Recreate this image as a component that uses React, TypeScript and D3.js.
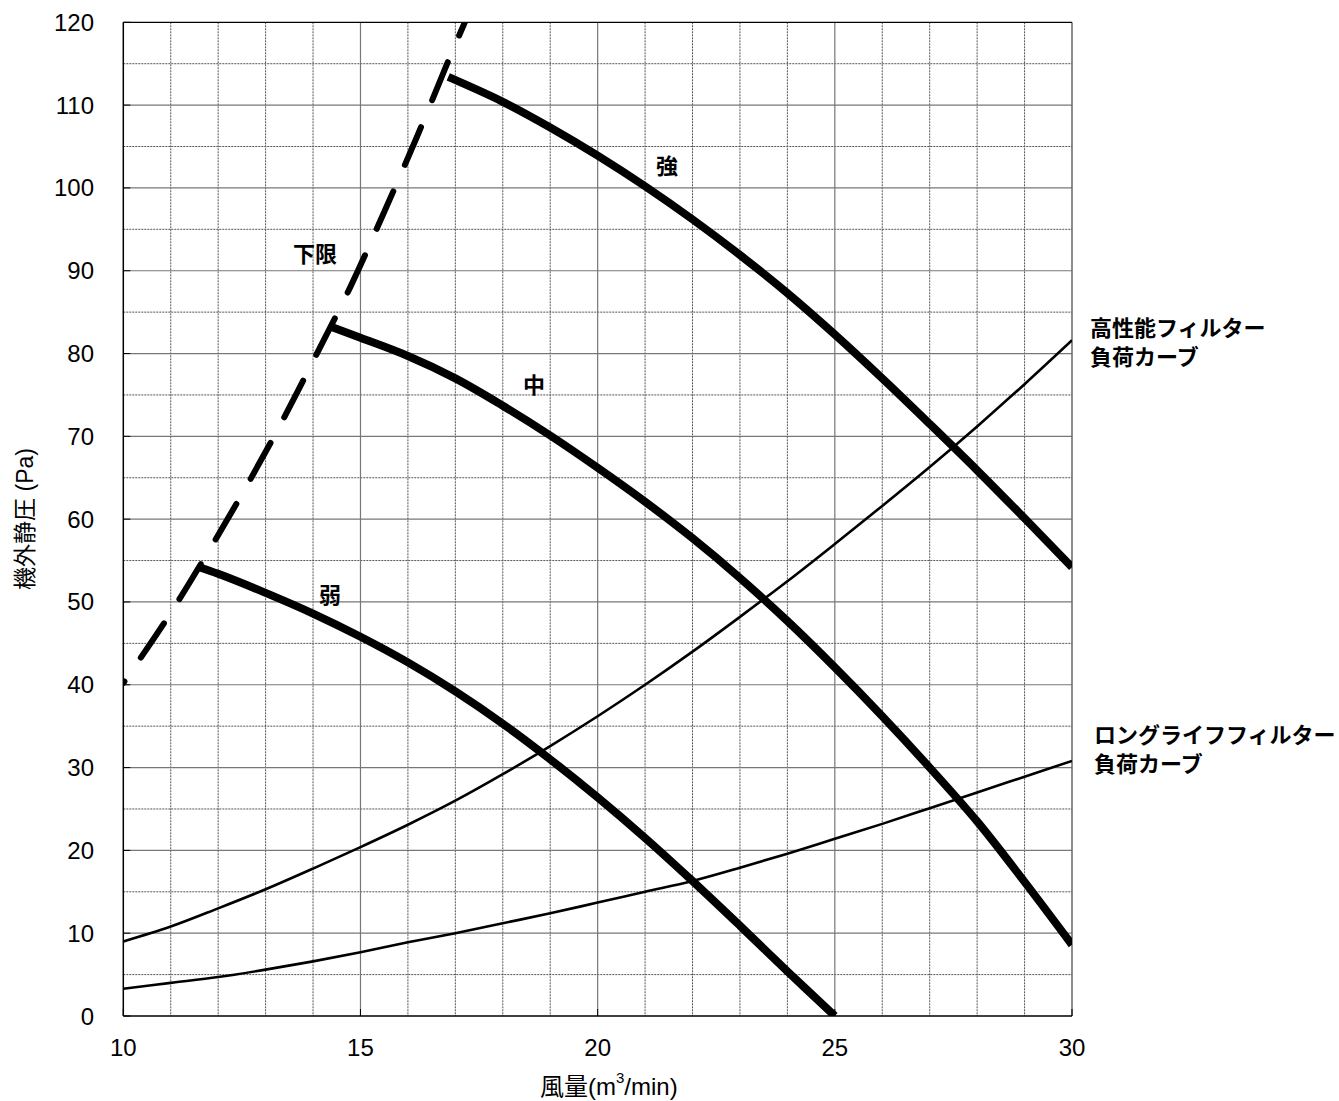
import React from 'react';
import * as d3 from 'd3';

// fan curves (Q in m3/min, P in Pa)
const strongQ = [16.85, 18, 19, 20, 21, 22, 23, 24, 25, 26, 27, 28, 29, 30];
const strongP = [113.4, 110.4, 107.3, 103.9, 100.2, 96.2, 91.9, 87.3, 82.3, 77.0, 71.5, 65.9, 60.1, 54.2];

const mediumQ = [14.35, 15, 16, 17, 18, 19, 20, 21, 22, 23, 24, 25, 26, 27, 28, 29, 30];
const mediumP = [83.3, 81.9, 79.7, 77.0, 73.7, 70.1, 66.2, 62.1, 57.7, 52.9, 47.7, 42.1, 36.2, 30.0, 23.5, 16.2, 8.6];

const weakQ = [11.6, 12, 13, 14, 15, 16, 17, 18, 19, 20, 21, 22, 23, 24, 25];
const weakP = [54.2, 53.4, 51.1, 48.6, 45.8, 42.7, 39.2, 35.3, 31.0, 26.4, 21.5, 16.3, 10.9, 5.4, 0];

// filter load curves
const hpQ = [10, 11, 12, 13, 14, 15, 16, 17, 18, 19, 20, 21, 22, 23, 24, 25, 26, 27, 28, 29, 30];
const hpP = [9.0, 10.8, 13.0, 15.3, 17.8, 20.4, 23.1, 26.0, 29.2, 32.6, 36.2, 40.0, 44.0, 48.2, 52.5, 57.0, 61.6, 66.3, 71.2, 76.3, 81.6];

const llQ = [10, 11, 12, 13, 14, 15, 16, 17, 18, 19, 20, 21, 22, 23, 24, 25, 26, 27, 28, 29, 30];
const llP = [3.3, 4.0, 4.7, 5.6, 6.6, 7.7, 8.9, 10.0, 11.2, 12.4, 13.7, 15.0, 16.3, 17.9, 19.6, 21.4, 23.2, 25.1, 27.0, 28.9, 30.8];

// lower limit (dashed)
const limitQ = [10, 10.9, 11.7, 12.5, 13.3, 14.1, 14.8, 15.5, 16.2, 16.9, 17.2];
const limitP = [40.2, 47.8, 55.2, 63.0, 71.3, 80.2, 88.2, 97.1, 106.3, 116.0, 120.0];

const xTicks = [10, 15, 20, 25, 30];
const yTicks = [0, 10, 20, 30, 40, 50, 60, 70, 80, 90, 100, 110, 120];

const W = 1339, H = 1101;
const left = 123.3, right = 1072, top = 22.3, bottom = 1016;
const latin = "'Liberation Sans', Arial, 'Noto Sans CJK JP', sans-serif";
const jp = "'Noto Sans CJK JP', sans-serif";

export default function App() {
  const x = d3.scaleLinear().domain([10, 30]).range([left, right]);
  const y = d3.scaleLinear().domain([0, 120]).range([bottom, top]);

  const line = d3.line<[number, number]>()
    .x(d => x(d[0]))
    .y(d => y(d[1]))
    .curve(d3.curveCatmullRom.alpha(0.5));
  const path = (qs: number[], ps: number[]) => line(qs.map((q, i) => [q, ps[i]] as [number, number])) || '';

  const minorX = d3.range(11, 30).filter(v => v % 5 !== 0);
  const majorX = [15, 20, 25];
  const minorY = d3.range(5, 120, 10);
  const majorY = d3.range(10, 120, 10);

  return (
    <svg width={W} height={H} style={{ position: 'absolute', left: 0, top: 0, background: '#fff' }}>
      <defs>
        <clipPath id="plot">
          <rect x={left} y={top} width={right - left} height={bottom - top} />
        </clipPath>
      </defs>

      {/* grid */}
      <g>
        {minorX.map(v => (
          <line key={'mx' + v} x1={x(v)} x2={x(v)} y1={top} y2={bottom} stroke="#555" strokeWidth={1} strokeDasharray="2 1" />
        ))}
        {minorY.map(v => (
          <line key={'my' + v} x1={left} x2={right} y1={y(v)} y2={y(v)} stroke="#555" strokeWidth={1} strokeDasharray="2 1" />
        ))}
        {majorX.map(v => (
          <line key={'Mx' + v} x1={x(v)} x2={x(v)} y1={top} y2={bottom} stroke="#777" strokeWidth={1.2} />
        ))}
        {majorY.map(v => (
          <line key={'My' + v} x1={left} x2={right} y1={y(v)} y2={y(v)} stroke="#777" strokeWidth={1.2} />
        ))}
      </g>

      {/* frame */}
      <line x1={right} x2={right} y1={top} y2={bottom} stroke="#666" strokeWidth={1.5} />
      <line x1={left} x2={right} y1={top} y2={top} stroke="#000" strokeWidth={1.2} />
      <line x1={left} x2={left} y1={top} y2={bottom} stroke="#000" strokeWidth={1.5} />
      <line x1={left} x2={right} y1={bottom} y2={bottom} stroke="#000" strokeWidth={1.5} />
      {yTicks.map(v => (
        <line key={'ty' + v} x1={left} x2={left + 7} y1={y(v)} y2={y(v)} stroke="#000" strokeWidth={1} />
      ))}
      {xTicks.map(v => (
        <line key={'tx' + v} x1={x(v)} x2={x(v)} y1={bottom} y2={bottom - 7} stroke="#000" strokeWidth={1} />
      ))}

      {/* curves */}
      <g clipPath="url(#plot)" fill="none" stroke="#000">
        <path d={path(hpQ, hpP)} strokeWidth={2.6} />
        <path d={path(llQ, llP)} strokeWidth={2.6} />
        <path d={path(limitQ, limitP)} strokeWidth={6} strokeDasharray="41 29" strokeDashoffset={39} strokeLinecap="round" />
        <path d={path(weakQ, weakP)} strokeWidth={8} />
        <path d={path(mediumQ, mediumP)} strokeWidth={8} />
        <path d={path(strongQ, strongP)} strokeWidth={8} />
      </g>

      {/* tick labels */}
      <g fontFamily={latin} fontSize={24} fill="#000">
        {yTicks.map(v => (
          <text key={'ly' + v} x={94} y={y(v)} textAnchor="end" dominantBaseline="central">{v}</text>
        ))}
        {xTicks.map(v => (
          <text key={'lx' + v} x={x(v)} y={1047} textAnchor="middle" dominantBaseline="central">{v}</text>
        ))}
      </g>

      {/* axis titles */}
      <text x={540} y={1086} fontFamily={latin} fontSize={24} dominantBaseline="central">
        風量(m<tspan fontSize={15} dy={-9}>3</tspan><tspan dy={9}>/min)</tspan>
      </text>
      <text transform="translate(25,519) rotate(-90)" textAnchor="middle" dominantBaseline="central"
        fontFamily={latin} fontSize={23}>機外静圧 (Pa)</text>

      {/* annotations */}
      <g fontFamily={jp} fontWeight="bold" fontSize={22} fill="#000" dominantBaseline="central">
        <text x={667} y={164} textAnchor="middle">強</text>
        <text x={534} y={383} textAnchor="middle">中</text>
        <text x={330} y={593} textAnchor="middle">弱</text>
        <text x={315} y={252} textAnchor="middle">下限</text>
        <text x={1090} y={326}>高性能フィルター</text>
        <text x={1090} y={355}>負荷カーブ</text>
        <text x={1094} y={733}>ロングライフフィルター</text>
        <text x={1094} y={762}>負荷カーブ</text>
      </g>
    </svg>
  );
}
